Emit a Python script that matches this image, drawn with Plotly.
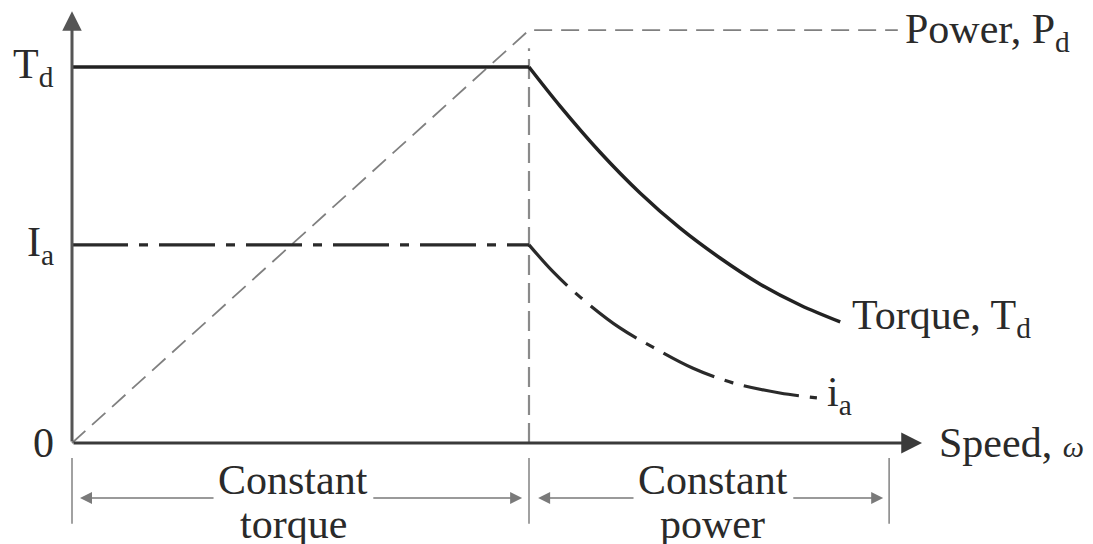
import plotly.graph_objects as go

# ---- data (normalised units: base speed = 1, rated torque = 1) ----
T_rated = 1.0
I_rated = 0.527
P_max = 1.098
base_speed = 1.0

const_speed = [0.0, 1.0]

torque_speed = [1.0, 1.068, 1.155, 1.243, 1.330, 1.418, 1.505, 1.593, 1.681]
torque_vals = [1.0, 0.896, 0.774, 0.665, 0.572, 0.492, 0.423, 0.367, 0.322]

current_speed = [1.0, 1.053, 1.112, 1.199, 1.271, 1.359, 1.446, 1.549, 1.630]
current_vals = [0.527, 0.455, 0.388, 0.306, 0.255, 0.199, 0.160, 0.133, 0.120]

power_speed = [0.0, 1.0, 1.807]
power_vals = [0.0, 1.098, 1.098]

y_tick_vals = [0.0, I_rated, T_rated]
y_tick_text = ["0", "I<sub>a</sub>", "T<sub>d</sub>"]

region_bounds = [0.0, 1.0, 1.788]
region_labels = [("Constant", "torque"), ("Constant", "power")]

curve_labels = ["Power, P<sub>d</sub>", "Torque, T<sub>d</sub>", "i<sub>a</sub>",
                "Speed, <span style='font-size:30px'><i>ω</i></span>"]

# ---- figure ----
FONT = "Liberation Serif"
FS = 42
TXT = "#2a2a2a"
fig = go.Figure()

# Power (thin dashed)
fig.add_trace(go.Scatter(x=power_speed, y=power_vals, mode="lines",
                         line=dict(color="#808080", width=1.8, dash="18px,9px")))
# vertical base-speed dashed line
fig.add_trace(go.Scatter(x=[base_speed, base_speed], y=[0, 1.05], mode="lines",
                         line=dict(color="#8a8a8a", width=2.2, dash="20px,8px")))
# Torque: constant part + falling part
fig.add_trace(go.Scatter(x=const_speed, y=[T_rated, T_rated], mode="lines",
                         line=dict(color="#222222", width=3.5)))
fig.add_trace(go.Scatter(x=torque_speed, y=torque_vals, mode="lines",
                         line=dict(color="#222222", width=3.5, shape="spline", smoothing=1.0)))
# Armature current: constant part + falling part
fig.add_trace(go.Scatter(x=const_speed, y=[I_rated, I_rated], mode="lines",
                         line=dict(color="#2a2a2a", width=3.2, dash="56px,11px,9px,11px")))
fig.add_trace(go.Scatter(x=current_speed, y=current_vals, mode="lines",
                         line=dict(color="#2a2a2a", width=3.2, shape="spline", smoothing=1.0,
                                   dash="56px,11px,9px,11px")))
# region boundary ticks below axis
for xb in region_bounds:
    fig.add_trace(go.Scatter(x=[xb, xb], y=[-0.040, -0.215], mode="lines",
                             line=dict(color="#8a8a8a", width=1.6)))

annotations = []
# axes with arrows
annotations.append(dict(x=0, y=1.148, ax=0, ay=0, xref="x", yref="y", axref="x", ayref="y",
                        showarrow=True, arrowhead=2, arrowsize=1.3, arrowwidth=3,
                        arrowcolor="#555555", text=""))
annotations.append(dict(x=1.86, y=0, ax=0, ay=0, xref="x", yref="y", axref="x", ayref="y",
                        showarrow=True, arrowhead=2, arrowsize=1.3, arrowwidth=3.2,
                        arrowcolor="#3a3a3a", text=""))

# region arrows
yarr = -0.146
arrows = [(0.313, 0.0175), (0.656, 0.985), (1.232, 1.020), (1.575, 1.775)]
for tail, tip in arrows:
    annotations.append(dict(x=tip, y=yarr, ax=tail, ay=yarr, xref="x", yref="y",
                            axref="x", ayref="y", showarrow=True, arrowhead=2,
                            arrowsize=1.6, arrowwidth=1.5, arrowcolor="#7a7a7a", text=""))

# region labels
for (l1, l2), xc in zip(region_labels, [0.4836, 1.4026]):
    annotations.append(dict(x=xc, y=-0.098, xref="x", yref="y", text=l1, showarrow=False,
                            xanchor="center", yanchor="middle",
                            font=dict(family=FONT, size=FS, color=TXT)))
    annotations.append(dict(x=xc, y=-0.215, xref="x", yref="y", text=l2, showarrow=False,
                            xanchor="center", yanchor="middle",
                            font=dict(family=FONT, size=FS, color=TXT)))

# y tick labels
for v, t in zip(y_tick_vals, y_tick_text):
    annotations.append(dict(x=-0.035, y=v, xref="x", yref="y", text=t, showarrow=False,
                            xanchor="right", yanchor="middle",
                            font=dict(family=FONT, size=FS, color=TXT)))

# curve labels
label_pos = [(1.818, 1.092), (1.702, 0.332), (1.648, 0.128), (1.893, 0.0)]
for t, (lx, ly) in zip(curve_labels, label_pos):
    annotations.append(dict(x=lx, y=ly, xref="x", yref="y", text=t, showarrow=False,
                            xanchor="left", yanchor="middle",
                            font=dict(family=FONT, size=FS, color=TXT)))

# the page body adds an 8px margin; offset the data mapping to compensate
OFF = 8
fig.update_layout(
    width=1093, height=544,
    margin=dict(l=0, r=0, t=0, b=0),
    paper_bgcolor="white", plot_bgcolor="white",
    showlegend=False,
    xaxis=dict(range=[-(72 - OFF) / 457, (1093 - (72 - OFF)) / 457], visible=False, fixedrange=True),
    yaxis=dict(range=[-(544 - (443 - OFF)) / 376, (443 - OFF) / 376], visible=False, fixedrange=True),
    annotations=annotations,
)

fig.write_html("out.html")
